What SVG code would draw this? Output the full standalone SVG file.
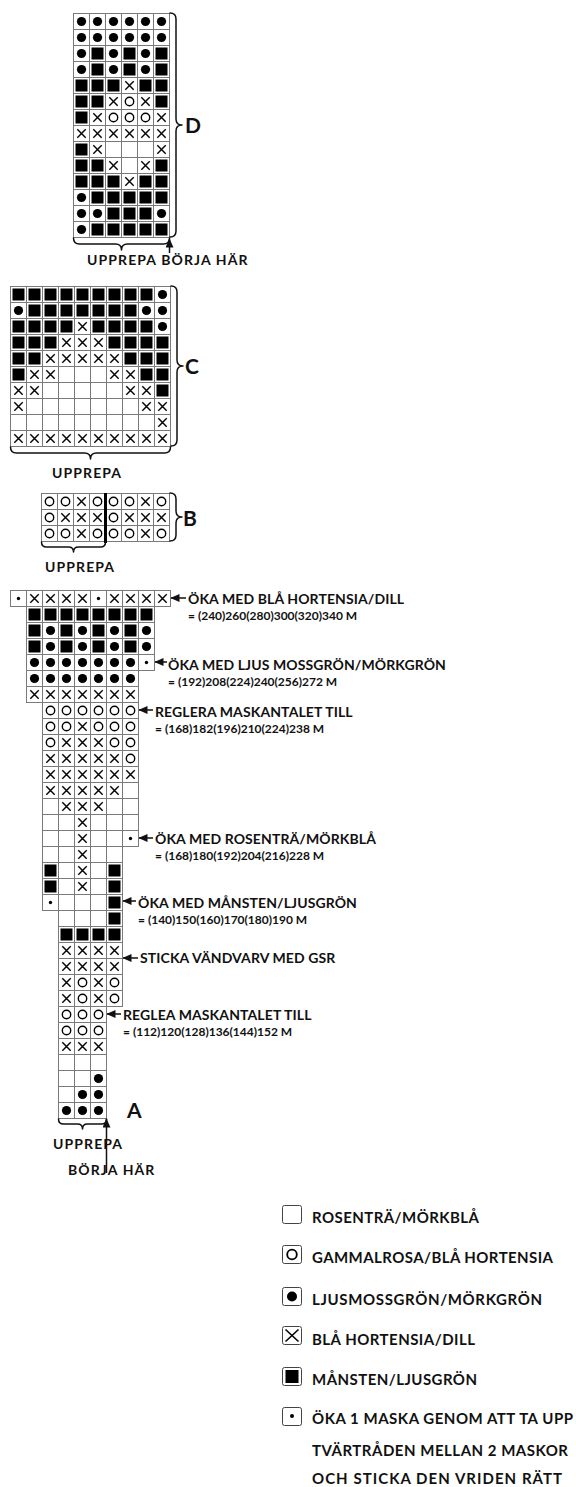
<svg xmlns="http://www.w3.org/2000/svg" xmlns:xlink="http://www.w3.org/1999/xlink" width="576" height="1487" viewBox="0 0 576 1487">
<style>
.cell{fill:#fff;stroke:#7a7a7a;stroke-width:1}
.t{font-family:Lato,"Noto Sans","Liberation Sans",sans-serif;font-weight:700;font-size:14px;letter-spacing:0.1px;fill:#111}
.u{letter-spacing:1.1px}
.lg{font-family:Lato,"Noto Sans","Liberation Sans",sans-serif;font-weight:700;font-size:15px;fill:#111}
.s{font-family:Lato,"Noto Sans","Liberation Sans",sans-serif;font-weight:700;font-size:12px;fill:#111}
.big{font-family:Lato,"Noto Sans","Liberation Sans",sans-serif;font-weight:700;font-size:21px;fill:#111}
.br{fill:none;stroke:#111;stroke-width:1.5;stroke-linecap:round;stroke-linejoin:round}
.ar{fill:none;stroke:#111;stroke-width:1.5}
.lb{fill:#fff;stroke:#444;stroke-width:1}
</style>
<defs>
<rect id="cE" class="cell" x="0.5" y="0.5" width="16" height="16"/>
<g id="cS"><use href="#cE"/><rect x="2.5" y="2.5" width="12" height="12" fill="#000"/></g>
<g id="cD"><use href="#cE"/><circle cx="8.5" cy="8.5" r="4.6" fill="#000"/></g>
<g id="cO"><use href="#cE"/><circle cx="8.5" cy="8.5" r="4.2" fill="none" stroke="#000" stroke-width="1.4"/></g>
<g id="cX"><use href="#cE"/><path d="M4.3 4.3L12.7 12.7M12.7 4.3L4.3 12.7" stroke="#000" stroke-width="1.4" fill="none"/></g>
<g id="cI"><use href="#cE"/><circle cx="8.5" cy="8.5" r="1.7" fill="#000"/></g>
<marker id="ah" viewBox="0 0 9 8" refX="8.5" refY="4" markerWidth="9" markerHeight="8" markerUnits="userSpaceOnUse" orient="auto">
<path d="M0 0L9 4L0 8z" fill="#111"/>
</marker>
</defs>

<g id="chartD" transform="translate(73,13)">
<use href="#cD" x="0" y="0"/><use href="#cD" x="16" y="0"/><use href="#cD" x="32" y="0"/><use href="#cD" x="48" y="0"/><use href="#cD" x="64" y="0"/><use href="#cD" x="80" y="0"/>
<use href="#cD" x="0" y="16"/><use href="#cD" x="16" y="16"/><use href="#cD" x="32" y="16"/><use href="#cD" x="48" y="16"/><use href="#cD" x="64" y="16"/><use href="#cD" x="80" y="16"/>
<use href="#cD" x="0" y="32"/><use href="#cS" x="16" y="32"/><use href="#cD" x="32" y="32"/><use href="#cS" x="48" y="32"/><use href="#cD" x="64" y="32"/><use href="#cS" x="80" y="32"/>
<use href="#cD" x="0" y="48"/><use href="#cS" x="16" y="48"/><use href="#cD" x="32" y="48"/><use href="#cS" x="48" y="48"/><use href="#cD" x="64" y="48"/><use href="#cS" x="80" y="48"/>
<use href="#cS" x="0" y="64"/><use href="#cS" x="16" y="64"/><use href="#cS" x="32" y="64"/><use href="#cX" x="48" y="64"/><use href="#cS" x="64" y="64"/><use href="#cS" x="80" y="64"/>
<use href="#cS" x="0" y="80"/><use href="#cS" x="16" y="80"/><use href="#cX" x="32" y="80"/><use href="#cO" x="48" y="80"/><use href="#cX" x="64" y="80"/><use href="#cS" x="80" y="80"/>
<use href="#cS" x="0" y="96"/><use href="#cX" x="16" y="96"/><use href="#cO" x="32" y="96"/><use href="#cO" x="48" y="96"/><use href="#cO" x="64" y="96"/><use href="#cX" x="80" y="96"/>
<use href="#cX" x="0" y="112"/><use href="#cX" x="16" y="112"/><use href="#cX" x="32" y="112"/><use href="#cX" x="48" y="112"/><use href="#cX" x="64" y="112"/><use href="#cX" x="80" y="112"/>
<use href="#cS" x="0" y="128"/><use href="#cX" x="16" y="128"/><use href="#cE" x="32" y="128"/><use href="#cE" x="48" y="128"/><use href="#cE" x="64" y="128"/><use href="#cX" x="80" y="128"/>
<use href="#cS" x="0" y="144"/><use href="#cS" x="16" y="144"/><use href="#cX" x="32" y="144"/><use href="#cE" x="48" y="144"/><use href="#cX" x="64" y="144"/><use href="#cS" x="80" y="144"/>
<use href="#cS" x="0" y="160"/><use href="#cS" x="16" y="160"/><use href="#cS" x="32" y="160"/><use href="#cX" x="48" y="160"/><use href="#cS" x="64" y="160"/><use href="#cS" x="80" y="160"/>
<use href="#cD" x="0" y="176"/><use href="#cS" x="16" y="176"/><use href="#cS" x="32" y="176"/><use href="#cS" x="48" y="176"/><use href="#cS" x="64" y="176"/><use href="#cS" x="80" y="176"/>
<use href="#cD" x="0" y="192"/><use href="#cD" x="16" y="192"/><use href="#cS" x="32" y="192"/><use href="#cS" x="48" y="192"/><use href="#cS" x="64" y="192"/><use href="#cD" x="80" y="192"/>
<use href="#cD" x="0" y="208"/><use href="#cS" x="16" y="208"/><use href="#cS" x="32" y="208"/><use href="#cS" x="48" y="208"/><use href="#cS" x="64" y="208"/><use href="#cS" x="80" y="208"/>
</g>
<g id="labelD">
<path class="br" d="M170 13Q176 13 176 19L176 119Q176 125 182 125Q176 125 176 131L176 231Q176 237 170 237"/>
<text class="big" x="185" y="133">D</text>
<path class="br" d="M73.5 238Q73.5 244 79.5 244L115.5 244Q121.5 244 121.5 250Q121.5 244 127.5 244L163.5 244Q169.5 244 169.5 238"/>
<text class="t u" x="87" y="265">UPPREPA BÖRJA HÄR</text>
</g>

<g id="chartC" transform="translate(10,286)">
<use href="#cS" x="0" y="0"/><use href="#cS" x="16" y="0"/><use href="#cS" x="32" y="0"/><use href="#cS" x="48" y="0"/><use href="#cS" x="64" y="0"/><use href="#cS" x="80" y="0"/><use href="#cS" x="96" y="0"/><use href="#cS" x="112" y="0"/><use href="#cS" x="128" y="0"/><use href="#cD" x="144" y="0"/>
<use href="#cD" x="0" y="16"/><use href="#cS" x="16" y="16"/><use href="#cS" x="32" y="16"/><use href="#cS" x="48" y="16"/><use href="#cS" x="64" y="16"/><use href="#cS" x="80" y="16"/><use href="#cS" x="96" y="16"/><use href="#cS" x="112" y="16"/><use href="#cD" x="128" y="16"/><use href="#cD" x="144" y="16"/>
<use href="#cS" x="0" y="32"/><use href="#cS" x="16" y="32"/><use href="#cS" x="32" y="32"/><use href="#cS" x="48" y="32"/><use href="#cX" x="64" y="32"/><use href="#cS" x="80" y="32"/><use href="#cS" x="96" y="32"/><use href="#cS" x="112" y="32"/><use href="#cS" x="128" y="32"/><use href="#cD" x="144" y="32"/>
<use href="#cS" x="0" y="48"/><use href="#cS" x="16" y="48"/><use href="#cS" x="32" y="48"/><use href="#cX" x="48" y="48"/><use href="#cX" x="64" y="48"/><use href="#cX" x="80" y="48"/><use href="#cS" x="96" y="48"/><use href="#cS" x="112" y="48"/><use href="#cS" x="128" y="48"/><use href="#cS" x="144" y="48"/>
<use href="#cS" x="0" y="64"/><use href="#cS" x="16" y="64"/><use href="#cX" x="32" y="64"/><use href="#cX" x="48" y="64"/><use href="#cX" x="64" y="64"/><use href="#cX" x="80" y="64"/><use href="#cX" x="96" y="64"/><use href="#cS" x="112" y="64"/><use href="#cS" x="128" y="64"/><use href="#cS" x="144" y="64"/>
<use href="#cS" x="0" y="80"/><use href="#cX" x="16" y="80"/><use href="#cX" x="32" y="80"/><use href="#cE" x="48" y="80"/><use href="#cE" x="64" y="80"/><use href="#cE" x="80" y="80"/><use href="#cX" x="96" y="80"/><use href="#cX" x="112" y="80"/><use href="#cS" x="128" y="80"/><use href="#cS" x="144" y="80"/>
<use href="#cX" x="0" y="96"/><use href="#cX" x="16" y="96"/><use href="#cE" x="32" y="96"/><use href="#cE" x="48" y="96"/><use href="#cE" x="64" y="96"/><use href="#cE" x="80" y="96"/><use href="#cE" x="96" y="96"/><use href="#cX" x="112" y="96"/><use href="#cX" x="128" y="96"/><use href="#cS" x="144" y="96"/>
<use href="#cX" x="0" y="112"/><use href="#cE" x="16" y="112"/><use href="#cE" x="32" y="112"/><use href="#cE" x="48" y="112"/><use href="#cE" x="64" y="112"/><use href="#cE" x="80" y="112"/><use href="#cE" x="96" y="112"/><use href="#cE" x="112" y="112"/><use href="#cX" x="128" y="112"/><use href="#cX" x="144" y="112"/>
<use href="#cE" x="0" y="128"/><use href="#cE" x="16" y="128"/><use href="#cE" x="32" y="128"/><use href="#cE" x="48" y="128"/><use href="#cE" x="64" y="128"/><use href="#cE" x="80" y="128"/><use href="#cE" x="96" y="128"/><use href="#cE" x="112" y="128"/><use href="#cE" x="128" y="128"/><use href="#cX" x="144" y="128"/>
<use href="#cX" x="0" y="144"/><use href="#cX" x="16" y="144"/><use href="#cX" x="32" y="144"/><use href="#cX" x="48" y="144"/><use href="#cX" x="64" y="144"/><use href="#cX" x="80" y="144"/><use href="#cX" x="96" y="144"/><use href="#cX" x="112" y="144"/><use href="#cX" x="128" y="144"/><use href="#cX" x="144" y="144"/>
</g>
<g id="labelC">
<path class="br" d="M171 286Q177 286 177 292L177 360Q177 366 183 366Q177 366 177 372L177 440Q177 446 171 446"/>
<text class="big" x="185" y="374">C</text>
<path class="br" d="M10.5 447Q10.5 453 16.5 453L84.5 453Q90.5 453 90.5 459Q90.5 453 96.5 453L164.5 453Q170.5 453 170.5 447"/>
<text class="t u" x="52" y="478">UPPREPA</text>
</g>

<g id="chartB" transform="translate(41,493)">
<use href="#cO" x="0" y="0"/><use href="#cO" x="16" y="0"/><use href="#cX" x="32" y="0"/><use href="#cO" x="48" y="0"/><use href="#cO" x="64" y="0"/><use href="#cO" x="80" y="0"/><use href="#cX" x="96" y="0"/><use href="#cO" x="112" y="0"/>
<use href="#cO" x="0" y="16"/><use href="#cX" x="16" y="16"/><use href="#cX" x="32" y="16"/><use href="#cX" x="48" y="16"/><use href="#cO" x="64" y="16"/><use href="#cX" x="80" y="16"/><use href="#cX" x="96" y="16"/><use href="#cX" x="112" y="16"/>
<use href="#cO" x="0" y="32"/><use href="#cO" x="16" y="32"/><use href="#cX" x="32" y="32"/><use href="#cO" x="48" y="32"/><use href="#cO" x="64" y="32"/><use href="#cO" x="80" y="32"/><use href="#cX" x="96" y="32"/><use href="#cO" x="112" y="32"/>
<line x1="64.5" y1="0" x2="64.5" y2="50" stroke="#000" stroke-width="3"/>
</g>
<g id="labelB">
<path class="br" d="M170 493Q176 493 176 499L176 511Q176 517 182 517Q176 517 176 523L176 535Q176 541 170 541"/>
<text class="big" x="183" y="526">B</text>
<path class="br" d="M41.5 542Q41.5 547 46.5 547L68.5 547Q73.5 547 73.5 552Q73.5 547 78.5 547L100.5 547Q105.5 547 105.5 542"/>
<text class="t u" x="45" y="571.5">UPPREPA</text>
</g>

<g id="chartA" transform="translate(10,590)">
<use href="#cI" x="0" y="0"/><use href="#cX" x="16" y="0"/><use href="#cX" x="32" y="0"/><use href="#cX" x="48" y="0"/><use href="#cX" x="64" y="0"/><use href="#cI" x="80" y="0"/><use href="#cX" x="96" y="0"/><use href="#cX" x="112" y="0"/><use href="#cX" x="128" y="0"/><use href="#cX" x="144" y="0"/>
<use href="#cS" x="16" y="16"/><use href="#cS" x="32" y="16"/><use href="#cS" x="48" y="16"/><use href="#cS" x="64" y="16"/><use href="#cS" x="80" y="16"/><use href="#cS" x="96" y="16"/><use href="#cS" x="112" y="16"/><use href="#cS" x="128" y="16"/>
<use href="#cS" x="16" y="32"/><use href="#cD" x="32" y="32"/><use href="#cS" x="48" y="32"/><use href="#cD" x="64" y="32"/><use href="#cS" x="80" y="32"/><use href="#cD" x="96" y="32"/><use href="#cS" x="112" y="32"/><use href="#cD" x="128" y="32"/>
<use href="#cS" x="16" y="48"/><use href="#cD" x="32" y="48"/><use href="#cS" x="48" y="48"/><use href="#cD" x="64" y="48"/><use href="#cS" x="80" y="48"/><use href="#cD" x="96" y="48"/><use href="#cS" x="112" y="48"/><use href="#cD" x="128" y="48"/>
<use href="#cD" x="16" y="64"/><use href="#cD" x="32" y="64"/><use href="#cD" x="48" y="64"/><use href="#cD" x="64" y="64"/><use href="#cD" x="80" y="64"/><use href="#cD" x="96" y="64"/><use href="#cD" x="112" y="64"/><use href="#cI" x="128" y="64"/>
<use href="#cD" x="16" y="80"/><use href="#cD" x="32" y="80"/><use href="#cD" x="48" y="80"/><use href="#cD" x="64" y="80"/><use href="#cD" x="80" y="80"/><use href="#cD" x="96" y="80"/><use href="#cD" x="112" y="80"/>
<use href="#cX" x="16" y="96"/><use href="#cX" x="32" y="96"/><use href="#cX" x="48" y="96"/><use href="#cX" x="64" y="96"/><use href="#cX" x="80" y="96"/><use href="#cX" x="96" y="96"/><use href="#cX" x="112" y="96"/>
<use href="#cO" x="32" y="112"/><use href="#cO" x="48" y="112"/><use href="#cO" x="64" y="112"/><use href="#cO" x="80" y="112"/><use href="#cO" x="96" y="112"/><use href="#cO" x="112" y="112"/>
<use href="#cO" x="32" y="128"/><use href="#cO" x="48" y="128"/><use href="#cX" x="64" y="128"/><use href="#cO" x="80" y="128"/><use href="#cO" x="96" y="128"/><use href="#cO" x="112" y="128"/>
<use href="#cO" x="32" y="144"/><use href="#cX" x="48" y="144"/><use href="#cX" x="64" y="144"/><use href="#cX" x="80" y="144"/><use href="#cO" x="96" y="144"/><use href="#cO" x="112" y="144"/>
<use href="#cX" x="32" y="160"/><use href="#cX" x="48" y="160"/><use href="#cX" x="64" y="160"/><use href="#cX" x="80" y="160"/><use href="#cX" x="96" y="160"/><use href="#cO" x="112" y="160"/>
<use href="#cX" x="32" y="176"/><use href="#cX" x="48" y="176"/><use href="#cX" x="64" y="176"/><use href="#cX" x="80" y="176"/><use href="#cX" x="96" y="176"/><use href="#cX" x="112" y="176"/>
<use href="#cX" x="32" y="192"/><use href="#cX" x="48" y="192"/><use href="#cX" x="64" y="192"/><use href="#cX" x="80" y="192"/><use href="#cX" x="96" y="192"/><use href="#cE" x="112" y="192"/>
<use href="#cE" x="32" y="208"/><use href="#cX" x="48" y="208"/><use href="#cX" x="64" y="208"/><use href="#cX" x="80" y="208"/><use href="#cE" x="96" y="208"/><use href="#cE" x="112" y="208"/>
<use href="#cE" x="32" y="224"/><use href="#cE" x="48" y="224"/><use href="#cX" x="64" y="224"/><use href="#cE" x="80" y="224"/><use href="#cE" x="96" y="224"/><use href="#cE" x="112" y="224"/>
<use href="#cE" x="32" y="240"/><use href="#cE" x="48" y="240"/><use href="#cX" x="64" y="240"/><use href="#cE" x="80" y="240"/><use href="#cE" x="96" y="240"/><use href="#cI" x="112" y="240"/>
<use href="#cE" x="32" y="256"/><use href="#cE" x="48" y="256"/><use href="#cX" x="64" y="256"/><use href="#cE" x="80" y="256"/><use href="#cE" x="96" y="256"/>
<use href="#cS" x="32" y="272"/><use href="#cE" x="48" y="272"/><use href="#cX" x="64" y="272"/><use href="#cE" x="80" y="272"/><use href="#cS" x="96" y="272"/>
<use href="#cS" x="32" y="288"/><use href="#cE" x="48" y="288"/><use href="#cX" x="64" y="288"/><use href="#cE" x="80" y="288"/><use href="#cS" x="96" y="288"/>
<use href="#cI" x="32" y="304"/><use href="#cE" x="48" y="304"/><use href="#cE" x="64" y="304"/><use href="#cE" x="80" y="304"/><use href="#cS" x="96" y="304"/>
<use href="#cE" x="48" y="320"/><use href="#cE" x="64" y="320"/><use href="#cE" x="80" y="320"/><use href="#cS" x="96" y="320"/>
<use href="#cS" x="48" y="336"/><use href="#cS" x="64" y="336"/><use href="#cS" x="80" y="336"/><use href="#cS" x="96" y="336"/>
<use href="#cX" x="48" y="352"/><use href="#cX" x="64" y="352"/><use href="#cX" x="80" y="352"/><use href="#cX" x="96" y="352"/>
<use href="#cX" x="48" y="368"/><use href="#cX" x="64" y="368"/><use href="#cX" x="80" y="368"/><use href="#cX" x="96" y="368"/>
<use href="#cX" x="48" y="384"/><use href="#cO" x="64" y="384"/><use href="#cX" x="80" y="384"/><use href="#cO" x="96" y="384"/>
<use href="#cX" x="48" y="400"/><use href="#cO" x="64" y="400"/><use href="#cX" x="80" y="400"/><use href="#cO" x="96" y="400"/>
<use href="#cO" x="48" y="416"/><use href="#cO" x="64" y="416"/><use href="#cO" x="80" y="416"/>
<use href="#cO" x="48" y="432"/><use href="#cO" x="64" y="432"/><use href="#cO" x="80" y="432"/>
<use href="#cX" x="48" y="448"/><use href="#cX" x="64" y="448"/><use href="#cX" x="80" y="448"/>
<use href="#cE" x="48" y="464"/><use href="#cE" x="64" y="464"/><use href="#cE" x="80" y="464"/>
<use href="#cE" x="48" y="480"/><use href="#cE" x="64" y="480"/><use href="#cD" x="80" y="480"/>
<use href="#cE" x="48" y="496"/><use href="#cD" x="64" y="496"/><use href="#cD" x="80" y="496"/>
<use href="#cD" x="48" y="512"/><use href="#cD" x="64" y="512"/><use href="#cD" x="80" y="512"/>
</g>
<g id="labelA">
<text class="big" x="127" y="1118">A</text>
<path class="br" d="M58.5 1119Q58.5 1124 63.5 1124L77.5 1124Q82.5 1124 82.5 1129Q82.5 1124 87.5 1124L101.5 1124Q106.5 1124 106.5 1119"/>
<text class="t u" x="53" y="1149">UPPREPA</text>
<text class="t u" x="68" y="1175">BÖRJA HÄR</text>
</g>

<g id="connectors">
<path class="ar" d="M186 598H171" marker-end="url(#ah)"/>
<path class="ar" d="M167 662H155" marker-end="url(#ah)"/>
<path class="ar" d="M153 710H139" marker-end="url(#ah)"/>
<path class="ar" d="M153 838H139" marker-end="url(#ah)"/>
<path class="ar" d="M136 901H123" marker-end="url(#ah)"/>
<path class="ar" d="M138 958H123" marker-end="url(#ah)"/>
<path class="ar" d="M121 1014H107" marker-end="url(#ah)"/>
<path class="ar" d="M169.5 253V239" marker-end="url(#ah)"/>
<path class="ar" d="M106.5 1173V1119" marker-end="url(#ah)"/>
</g>

<g id="notes">
<text class="t" x="188" y="604">ÖKA MED BLÅ HORTENSIA/DILL</text>
<text class="s" x="188" y="620">= (240)260(280)300(320)340 M</text>
<text class="t" x="168" y="670">ÖKA MED LJUS MOSSGRÖN/MÖRKGRÖN</text>
<text class="s" x="168" y="686">= (192)208(224)240(256)272 M</text>
<text class="t" x="155" y="717">REGLERA MASKANTALET TILL</text>
<text class="s" x="155" y="733">= (168)182(196)210(224)238 M</text>
<text class="t" x="155" y="844">ÖKA MED ROSENTRÄ/MÖRKBLÅ</text>
<text class="s" x="155" y="860">= (168)180(192)204(216)228 M</text>
<text class="t" x="138" y="908">ÖKA MED MÅNSTEN/LJUSGRÖN</text>
<text class="s" x="138" y="924">= (140)150(160)170(180)190 M</text>
<text class="t" x="140" y="963">STICKA VÄNDVARV MED GSR</text>
<text class="t" x="123" y="1020">REGLEA MASKANTALET TILL</text>
<text class="s" x="123" y="1036">= (112)120(128)136(144)152 M</text>
</g>

<g id="legend">
<rect class="lb" x="282.5" y="1205.5" width="19" height="18" rx="2"/>
<text class="lg" x="312" y="1223" textLength="167" lengthAdjust="spacing">ROSENTRÄ/MÖRKBLÅ</text>
<rect class="lb" x="282.5" y="1245.5" width="19" height="18" rx="2"/>
<circle cx="292" cy="1254.5" r="4.8" fill="none" stroke="#000" stroke-width="1.8"/>
<text class="lg" x="312" y="1263" textLength="241" lengthAdjust="spacing">GAMMALROSA/BLÅ HORTENSIA</text>
<rect class="lb" x="282.5" y="1287.5" width="19" height="18" rx="2"/>
<circle cx="292" cy="1296.5" r="5" fill="#000"/>
<text class="lg" x="312" y="1305" textLength="230" lengthAdjust="spacing">LJUSMOSSGRÖN/MÖRKGRÖN</text>
<rect class="lb" x="282.5" y="1326.5" width="19" height="18" rx="2"/>
<path d="M285.5 1329.5L298.5 1341.5M298.5 1329.5L285.5 1341.5" stroke="#000" stroke-width="1.6"/>
<text class="lg" x="312" y="1345" textLength="163" lengthAdjust="spacing">BLÅ HORTENSIA/DILL</text>
<rect class="lb" x="282.5" y="1367.5" width="19" height="18" rx="2"/>
<rect x="285.5" y="1370" width="13" height="13" fill="#000"/>
<text class="lg" x="312" y="1385" textLength="165" lengthAdjust="spacing">MÅNSTEN/LJUSGRÖN</text>
<rect class="lb" x="282.5" y="1407.5" width="19" height="18" rx="2"/>
<circle cx="292" cy="1416" r="2" fill="#000"/>
<text class="lg" x="312" y="1424" textLength="261" lengthAdjust="spacing">ÖKA 1 MASKA GENOM ATT TA UPP</text>
<text class="lg" x="312" y="1456" textLength="256" lengthAdjust="spacing">TVÄRTRÅDEN MELLAN 2 MASKOR</text>
<text class="lg" x="312" y="1484" textLength="250" lengthAdjust="spacing">OCH STICKA DEN VRIDEN RÄTT</text>
</g>
</svg>
